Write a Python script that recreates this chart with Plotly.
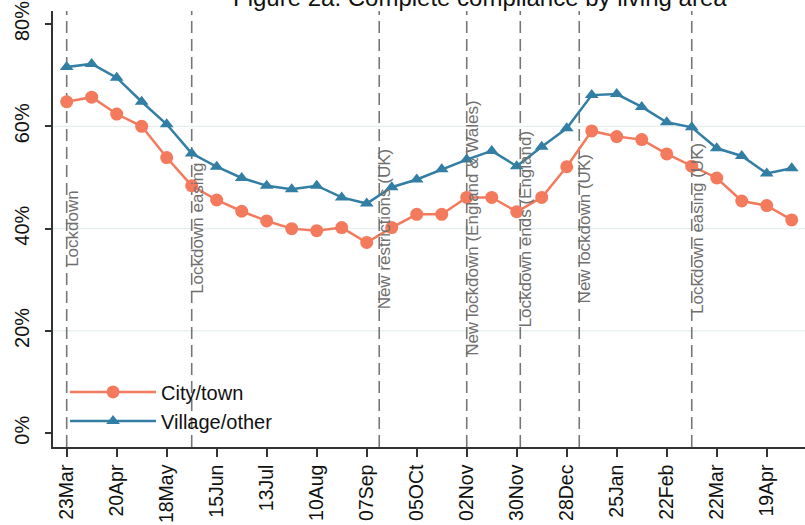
import plotly.graph_objects as go
import pandas as pd

# ---- data ----
start_date = "2020-03-23"
n_points = 30
dates = pd.date_range(start_date, periods=n_points, freq="14D")

city_town = [64.8, 65.7, 62.4, 60.0, 53.9, 48.4, 45.6, 43.4, 41.5, 40.0,
             39.6, 40.2, 37.3, 40.2, 42.8, 42.8, 46.1, 46.1, 43.3, 46.1,
             52.1, 59.1, 58.0, 57.4, 54.6, 52.2, 49.9, 45.4, 44.5, 41.7]
village_other = [71.6, 72.2, 69.5, 64.8, 60.4, 54.7, 52.1, 49.9, 48.4, 47.7,
                 48.4, 46.1, 44.9, 48.1, 49.6, 51.6, 53.5, 55.2, 52.2, 56.0,
                 59.6, 66.1, 66.3, 63.8, 60.8, 59.8, 55.7, 54.2, 50.8, 51.8]

tick_dates = pd.date_range(start_date, periods=15, freq="28D")
tick_labels = ["23Mar", "20Apr", "18May", "15Jun", "13Jul", "10Aug", "07Sep",
               "05OCt", "02Nov", "30Nov", "28Dec", "25Jan", "22Feb", "22Mar", "19Apr"]

y_ticks = [0, 20, 40, 60, 80]
y_tick_labels = ["0%", "20%", "40%", "60%", "80%"]
grid_values = [20, 40, 60]

event_dates = ["2020-03-23", "2020-06-01", "2020-09-14", "2020-11-02",
               "2020-12-02", "2021-01-04", "2021-03-08"]
event_labels = ["Lockdown", "Lockdown easing", "New restrictions (UK)",
                "New lockdown (England & Wales)", "Lockdown ends (England)",
                "New lockdown (UK)", "Lockdown easing (UK)"]
event_label_y = 40

title_text = "Figure 2a: Complete compliance by living area"

CITY_COLOR = "#F47A5D"
VILLAGE_COLOR = "#327EA4"
FONT = "Arial, Liberation Sans, sans-serif"

fig = go.Figure()
fig.add_trace(go.Scatter(
    x=dates, y=city_town, name="City/town", mode="lines+markers",
    line=dict(color=CITY_COLOR, width=2.5),
    marker=dict(symbol="circle", size=13, color=CITY_COLOR),
))
fig.add_trace(go.Scatter(
    x=dates, y=village_other, name="Village/other", mode="lines+markers",
    line=dict(color=VILLAGE_COLOR, width=2.5),
    marker=dict(symbol="triangle-up", size=12, color=VILLAGE_COLOR),
))

shapes = []
for g in grid_values:
    shapes.append(dict(type="line", xref="paper", x0=0, x1=1, yref="y", y0=g, y1=g,
                       line=dict(color="#E6EFF0", width=1.2), layer="below"))
for d in event_dates:
    shapes.append(dict(type="line", xref="x", x0=d, x1=d, yref="paper", y0=0, y1=1,
                       line=dict(color="#777777", width=1.6, dash="12px,6px"), layer="below"))

annotations = []
for d, lab in zip(event_dates, event_labels):
    annotations.append(dict(x=d, y=event_label_y, xref="x", yref="y", text=lab,
                            textangle=-90, showarrow=False, xanchor="left", yanchor="middle",
                            xshift=-6, font=dict(size=17, color="#707070", family=FONT)))
annotations.append(dict(x=0.568, xref="paper", y=1, yref="paper", text=title_text,
                        showarrow=False, xanchor="center", yanchor="middle", yshift=14,
                        font=dict(size=24, color="#111111", family=FONT)))

fig.update_layout(
    width=805, height=525,
    margin=dict(l=53, r=0, t=11, b=78),
    paper_bgcolor="white", plot_bgcolor="white",
    font=dict(family=FONT, color="#111111"),
    shapes=shapes, annotations=annotations,
    legend=dict(x=0.016, y=0.171, xanchor="left", yanchor="top",
                bgcolor="rgba(0,0,0,0)", font=dict(size=20, family=FONT),
                itemwidth=86, tracegroupgap=0),
    showlegend=True,
)
fig.update_xaxes(
    type="date", range=["2020-03-15 08:00", "2021-05-10 10:00"], automargin=False,
    tickvals=tick_dates, ticktext=tick_labels, tickangle=-90,
    showgrid=False, zeroline=False, showline=True, linecolor="#333333", linewidth=1.5,
    ticks="outside", ticklen=8, tickcolor="#333333", tickwidth=1.5,
    tickfont=dict(size=19.5, family=FONT, color="#111111"),
)
fig.update_yaxes(
    range=[-2.68, 82.54], automargin=False,
    tickvals=y_ticks, ticktext=y_tick_labels, tickangle=-90,
    showgrid=False, zeroline=False, showline=True, linecolor="#333333", linewidth=1.5,
    ticks="outside", ticklen=6, tickcolor="#333333", tickwidth=1.5,
    tickfont=dict(size=20, family=FONT, color="#111111"), ticklabelstandoff=8,
)

fig.write_html("out.html", config={"displayModeBar": False},
               post_script="document.body.style.margin='0';")
